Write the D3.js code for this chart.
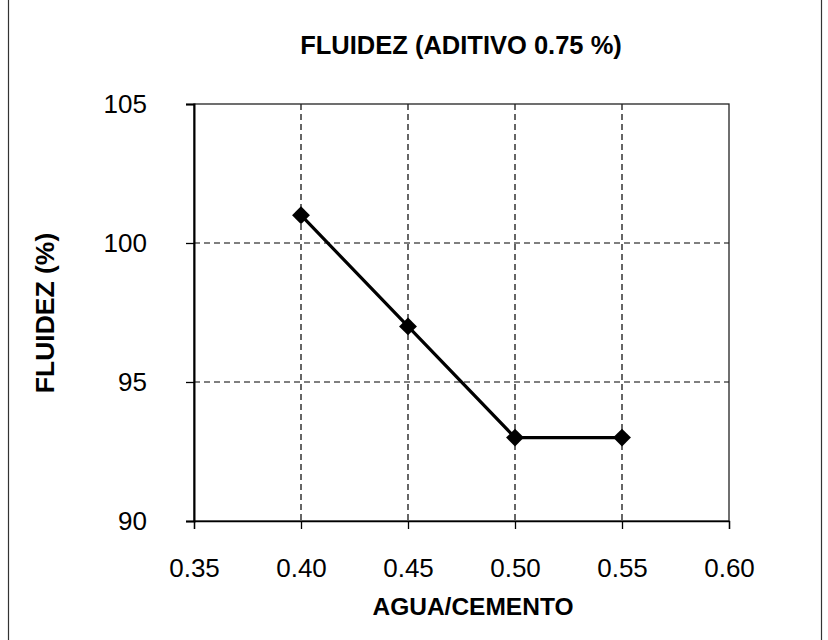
<!DOCTYPE html>
<html>
<head>
<meta charset="utf-8">
<script src="https://cdn.jsdelivr.net/npm/d3@7"></script>
<style>
  html, body { margin: 0; padding: 0; background: #fff; }
  svg { display: block; }
  text { font-family: "Liberation Sans", Arial, sans-serif; fill: #000; }
</style>
</head>
<body>
<svg id="chart" width="828" height="640"></svg>
<script>
// ---- data ----
const xValues = [0.40, 0.45, 0.50, 0.55];
const fluidez = [101, 97, 93, 93];
const xTicks = [0.35, 0.40, 0.45, 0.50, 0.55, 0.60];
const yTicks = [90, 95, 100, 105];
const titleText = "FLUIDEZ (ADITIVO 0.75 %)";
const xTitle = "AGUA/CEMENTO";
const yTitle = "FLUIDEZ (%)";

const svg = d3.select("#chart");
const W = 828, H = 640;
const plot = { left: 194, right: 729, top: 104, bottom: 521 };

// outer frame (left and right edges visible)
svg.append("line").attr("x1", 8.5).attr("x2", 8.5).attr("y1", 0).attr("y2", H)
  .attr("stroke", "#333").attr("stroke-width", 1.2);
svg.append("line").attr("x1", 821.5).attr("x2", 821.5).attr("y1", 0).attr("y2", H)
  .attr("stroke", "#333").attr("stroke-width", 1.2);

const x = d3.scaleLinear().domain([0.35, 0.60]).range([plot.left, plot.right]);
const y = d3.scaleLinear().domain([90, 105]).range([plot.bottom, plot.top]);

// gridlines
const grid = svg.append("g");
grid.selectAll("line.gx").data(xTicks.slice(1, -1)).join("line")
  .attr("x1", d => x(d)).attr("x2", d => x(d))
  .attr("y1", plot.top).attr("y2", plot.bottom)
  .attr("stroke", "#000").attr("stroke-width", 1.2).attr("stroke-dasharray", "6,4");
grid.selectAll("line.gy").data(yTicks.slice(1, -1)).join("line")
  .attr("x1", plot.left).attr("x2", plot.right)
  .attr("y1", d => y(d)).attr("y2", d => y(d))
  .attr("stroke", "#000").attr("stroke-width", 1.2).attr("stroke-dasharray", "6,4");

// plot border
svg.append("rect").attr("x", plot.left).attr("y", plot.top)
  .attr("width", plot.right - plot.left).attr("height", plot.bottom - plot.top)
  .attr("fill", "none").attr("stroke", "#222").attr("stroke-width", 1.3);

// axes
const yAxis = d3.axisLeft(y).tickValues(yTicks).tickSize(8).tickPadding(39).tickFormat(d3.format("d"));
const gy = svg.append("g").attr("transform", `translate(${plot.left},0)`).call(yAxis);
gy.select(".domain").attr("stroke", "#000").attr("stroke-width", 2);
gy.selectAll(".tick line").attr("stroke", "#000").attr("stroke-width", 1.3);
gy.selectAll(".tick text").attr("font-size", 26).attr("font-family", "Liberation Sans, Arial, sans-serif");

const xAxis = d3.axisBottom(x).tickValues(xTicks).tickSize(8).tickPadding(30).tickFormat(d3.format(".2f"));
const gx = svg.append("g").attr("transform", `translate(0,${plot.bottom})`).call(xAxis);
gx.select(".domain").attr("stroke", "#000").attr("stroke-width", 1.3);
gx.selectAll(".tick line").attr("stroke", "#000").attr("stroke-width", 1.3);
gx.selectAll(".tick text").attr("font-size", 26).attr("font-family", "Liberation Sans, Arial, sans-serif");

// data line
const data = xValues.map((v, i) => ({ x: v, y: fluidez[i] }));
svg.append("path").datum(data)
  .attr("fill", "none").attr("stroke", "#000").attr("stroke-width", 3.2)
  .attr("d", d3.line().x(d => x(d.x)).y(d => y(d.y)));

// diamond markers
const sym = d3.symbol().type(d3.symbolSquare).size(160);
svg.selectAll("path.mk").data(data).join("path")
  .attr("class", "mk")
  .attr("d", sym)
  .attr("transform", d => `translate(${x(d.x)},${y(d.y)}) rotate(45)`)
  .attr("fill", "#000");

// titles
svg.append("text").attr("x", 461).attr("y", 54).attr("text-anchor", "middle")
  .attr("font-size", 25.5).attr("font-weight", "bold").text(titleText);
svg.append("text").attr("x", 473).attr("y", 615).attr("text-anchor", "middle")
  .attr("font-size", 24.5).attr("font-weight", "bold").text(xTitle);
svg.append("text").attr("transform", "translate(54,313) rotate(-90)").attr("text-anchor", "middle")
  .attr("font-size", 26.5).attr("font-weight", "bold").text(yTitle);
</script>
</body>
</html>
